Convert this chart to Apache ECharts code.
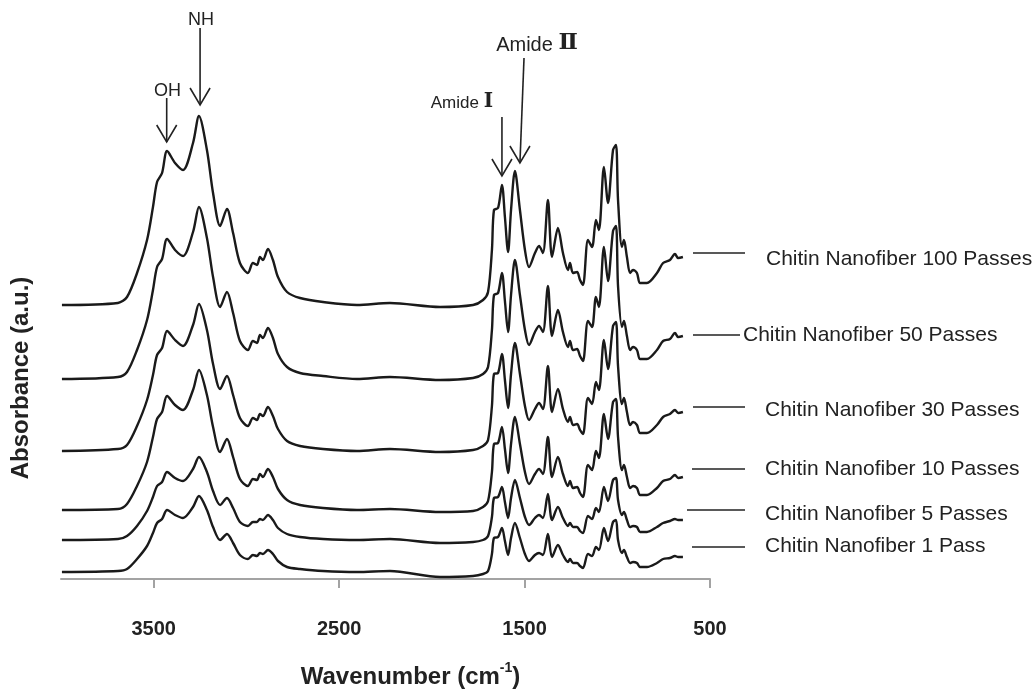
<!DOCTYPE html>
<html><head><meta charset="utf-8">
<script src="https://cdn.jsdelivr.net/npm/echarts@6/dist/echarts.min.js"></script>
<style>html,body{margin:0;padding:0;background:#fff}#c{width:1036px;height:689px}</style>
</head><body><div id="c"></div>
<script>
// Shared wavenumber grid (cm-1)
const wavenumbers = [3995,3693,3644,3590,3536,3504,3482,3455,3428,3385,3342,3288,3256,3213,3180,3142,3105,3072,3035,2992,2965,2943,2927,2911,2884,2857,2830,2781,2711,2587,2404,2226,
1956,1778,1724,1697,1676,1665,1643,1622,1606,1589,1573,1552,1525,1498,1476,1444,1422,1401,1374,1352,1320,1293,1266,1255,1239,1217,1201,1185,1158,1136,1115,1099,1072,1050,1023,1007,996,975,964,948,931,915,894,877,840,786,753,716,689,672,646];

// Offset absorbance (a.u.)
const abs100 = [2.74,2.76,2.82,3.06,3.39,3.72,3.97,4.06,4.28,4.16,4.09,4.36,4.63,4.29,3.86,3.53,3.70,3.46,3.16,3.06,3.16,3.14,3.22,3.19,3.30,3.19,3.02,2.87,2.81,2.77,2.74,2.76,
2.72,2.74,2.79,2.87,3.29,3.69,3.71,3.94,3.62,3.27,3.69,4.08,3.69,3.29,3.12,3.26,3.33,3.26,3.79,3.22,3.51,3.26,3.09,3.16,3.06,3.07,2.99,2.94,3.39,3.32,3.59,3.49,4.12,3.76,4.29,4.34,3.79,3.32,3.39,3.22,3.06,3.09,3.06,2.96,2.96,3.06,3.16,3.19,3.25,3.21,3.22];
const abs50 = [2.00,2.02,2.07,2.29,2.59,2.89,3.12,3.20,3.40,3.29,3.23,3.47,3.72,3.41,3.02,2.72,2.87,2.66,2.38,2.29,2.38,2.36,2.44,2.41,2.51,2.41,2.25,2.12,2.06,2.03,2.00,2.02,
1.99,2.01,2.05,2.12,2.49,2.84,2.86,3.06,2.78,2.47,2.84,3.19,2.84,2.49,2.34,2.47,2.53,2.47,2.93,2.43,2.69,2.47,2.32,2.38,2.29,2.30,2.23,2.18,2.58,2.52,2.82,2.72,3.32,2.98,3.48,3.53,2.93,2.52,2.58,2.43,2.29,2.32,2.29,2.20,2.20,2.29,2.38,2.40,2.46,2.42,2.43];
const abs30 = [1.28,1.30,1.34,1.53,1.79,2.04,2.24,2.31,2.48,2.39,2.33,2.54,2.75,2.49,2.15,1.90,2.03,1.84,1.61,1.53,1.61,1.59,1.65,1.63,1.72,1.63,1.50,1.38,1.33,1.30,1.28,1.30,
1.27,1.29,1.33,1.39,1.73,2.05,2.06,2.25,1.99,1.71,2.05,2.36,2.05,1.73,1.59,1.70,1.76,1.70,2.13,1.67,1.90,1.70,1.57,1.62,1.54,1.55,1.49,1.45,1.81,1.75,1.97,1.89,2.39,2.10,2.53,2.57,2.13,1.75,1.81,1.67,1.54,1.57,1.54,1.46,1.46,1.54,1.62,1.65,1.69,1.66,1.67];
const abs10 = [0.69,0.70,0.75,0.93,1.17,1.42,1.60,1.67,1.83,1.74,1.69,1.89,2.09,1.84,1.52,1.27,1.40,1.22,1.00,0.93,1.00,0.99,1.05,1.02,1.10,1.02,0.90,0.79,0.74,0.71,0.69,0.70,
0.67,0.68,0.72,0.78,1.07,1.35,1.36,1.52,1.30,1.06,1.35,1.62,1.35,1.07,0.95,1.05,1.10,1.05,1.42,1.02,1.22,1.05,0.93,0.98,0.91,0.92,0.86,0.82,1.14,1.09,1.28,1.21,1.65,1.40,1.77,1.80,1.42,1.09,1.14,1.02,0.91,0.93,0.91,0.84,0.84,0.91,0.98,1.00,1.04,1.01,1.02];
const abs5 = [0.39,0.40,0.43,0.53,0.68,0.82,0.93,0.97,1.07,1.01,0.98,1.10,1.22,1.07,0.88,0.74,0.81,0.71,0.57,0.53,0.57,0.57,0.60,0.59,0.64,0.59,0.51,0.45,0.42,0.40,0.39,0.40,
0.36,0.37,0.39,0.43,0.62,0.81,0.82,0.92,0.77,0.61,0.81,0.99,0.81,0.62,0.54,0.61,0.64,0.61,0.85,0.59,0.72,0.61,0.53,0.56,0.52,0.52,0.48,0.46,0.63,0.60,0.71,0.67,0.92,0.78,0.99,1.01,0.79,0.64,0.67,0.59,0.52,0.53,0.52,0.47,0.47,0.52,0.56,0.58,0.60,0.59,0.59];
const abs1 = [0.07,0.08,0.10,0.20,0.33,0.46,0.56,0.60,0.69,0.64,0.61,0.72,0.83,0.69,0.52,0.39,0.45,0.36,0.24,0.20,0.24,0.23,0.26,0.25,0.29,0.25,0.18,0.12,0.10,0.08,0.07,0.08,
0.02,0.03,0.05,0.08,0.25,0.41,0.42,0.51,0.38,0.24,0.41,0.56,0.41,0.25,0.18,0.24,0.26,0.24,0.45,0.22,0.34,0.24,0.17,0.20,0.16,0.16,0.13,0.11,0.25,0.23,0.32,0.29,0.51,0.38,0.57,0.59,0.39,0.26,0.29,0.22,0.16,0.17,0.16,0.12,0.12,0.16,0.20,0.21,0.23,0.22,0.22];

const seriesNames = ['Chitin Nanofiber 100 Passes','Chitin Nanofiber 50 Passes','Chitin Nanofiber 30 Passes','Chitin Nanofiber 10 Passes','Chitin Nanofiber 5 Passes','Chitin Nanofiber 1 Pass'];
const seriesValues = [abs100, abs50, abs30, abs10, abs5, abs1];
const xTicks = [3500, 2500, 1500, 500];

// Peak annotations: label words, numeral, tip (wavenumber, abs), tail, label anchor
const annWords = ['OH', 'NH', 'Amide ', 'Amide '];
const annNumerals = ['', '', 'Ⅰ', 'Ⅱ'];
const annTip = [[3430, 4.37], [3250, 4.74], [1622, 4.03], [1525, 4.16]];
const annTail = [[3430, 4.81], [3250, 5.51], [1622, 4.62], [1503, 5.21]];
const annText = [[3425, 4.91], [3245, 5.62], [1838, 4.79], [1433, 5.37]];
const annFont = [18, 18, 17, 20];

// Legend label layout (pixels)
const legendLayout = [
  {x1: 693, x2: 745, ly: 253, tx: 766, ty: 259},
  {x1: 693, x2: 740, ly: 335, tx: 743, ty: 335},
  {x1: 693, x2: 745, ly: 407, tx: 765, ty: 410},
  {x1: 692, x2: 745, ly: 469, tx: 765, ty: 469},
  {x1: 687, x2: 745, ly: 510, tx: 765, ty: 514},
  {x1: 692, x2: 745, ly: 547, tx: 765, ty: 546}
];

const FONT = '"Liberation Sans", Arial, "Noto Sans CJK JP", sans-serif';
const SERIF = '"DejaVu Serif", "Liberation Serif", "Noto Sans CJK JP", serif';
const chart = echarts.init(document.getElementById('c'), null, {renderer: 'canvas'});

const option = {
  animation: false,
  backgroundColor: '#fff',
  grid: {left: 61, right: 326, top: 79, bottom: 110, containLabel: false, outerBoundsMode: 'none'},
  xAxis: {
    type: 'value', inverse: true, min: 500, max: 4000, interval: 1000,
    splitLine: {show: false},
    axisLine: {show: true, lineStyle: {color: '#a3a3a3', width: 2}},
    axisTick: {show: true, length: 9, customValues: xTicks, lineStyle: {color: '#a3a3a3', width: 2}},
    axisLabel: {customValues: xTicks, formatter: v => String(v), margin: 40, fontSize: 20, fontWeight: 'bold', color: '#222', fontFamily: FONT},
    name: '{a|Wavenumber (cm}{s|-1}{a|)}',
    nameLocation: 'middle', nameGap: 82,
    nameTextStyle: {
      padding: [0, 0, 0, 50],
      rich: {
        a: {fontSize: 24, fontWeight: 'bold', color: '#222', fontFamily: FONT, verticalAlign: 'bottom', lineHeight: 28},
        s: {fontSize: 14, fontWeight: 'bold', color: '#222', fontFamily: FONT, verticalAlign: 'top', lineHeight: 28}
      }
    }
  },
  yAxis: {type: 'value', min: 0, max: 5, show: false},
  series: seriesValues.map((vals, k) => ({
    name: seriesNames[k], type: 'line', showSymbol: false, smooth: 0.3,
    lineStyle: {color: '#1a1a1a', width: 2.4},
    data: wavenumbers.map((w, i) => [w, vals[i]])
  })),
  graphic: []
};
chart.setOption(option);

const g = [];
g.push({type: 'text', x: 21, y: 378, rotation: Math.PI / 2,
  style: {text: 'Absorbance (a.u.)', font: 'bold 24px ' + FONT, fill: '#222', align: 'center', verticalAlign: 'middle'}});
legendLayout.forEach((L, k) => {
  g.push({type: 'line', shape: {x1: L.x1, y1: L.ly, x2: L.x2, y2: L.ly}, style: {stroke: '#222', lineWidth: 1.6}});
  g.push({type: 'text', x: L.tx, y: L.ty, style: {text: seriesNames[k], font: '21px ' + FONT, fill: '#222', align: 'left', verticalAlign: 'middle'}});
});
annWords.forEach((w, k) => {
  const tip = chart.convertToPixel({gridIndex: 0}, annTip[k]);
  const tail = chart.convertToPixel({gridIndex: 0}, annTail[k]);
  const tp = chart.convertToPixel({gridIndex: 0}, annText[k]);
  g.push({type: 'line', shape: {x1: tail[0], y1: tail[1], x2: tip[0], y2: tip[1]}, style: {stroke: '#222', lineWidth: 1.6}});
  g.push({type: 'polyline', shape: {points: [[tip[0] - 10, tip[1] - 17], [tip[0], tip[1]], [tip[0] + 10, tip[1] - 17]]}, style: {stroke: '#222', lineWidth: 1.6, fill: null}});
  const txt = annNumerals[k] ? '{a|' + w + '}{b|' + annNumerals[k] + '}' : '{a|' + w + '}';
  g.push({type: 'text', x: tp[0], y: tp[1], style: {text: txt, align: 'center', verticalAlign: 'middle',
    rich: {
      a: {fontSize: annFont[k], fontFamily: FONT, fill: '#222', verticalAlign: 'bottom', lineHeight: annFont[k] + 6},
      b: {fontSize: annFont[k] + 3, fontFamily: SERIF, fontWeight: 'bold', fill: '#222', verticalAlign: 'bottom', lineHeight: annFont[k] + 6}
    }}});
});
chart.setOption({graphic: g});
</script>
</body></html>
